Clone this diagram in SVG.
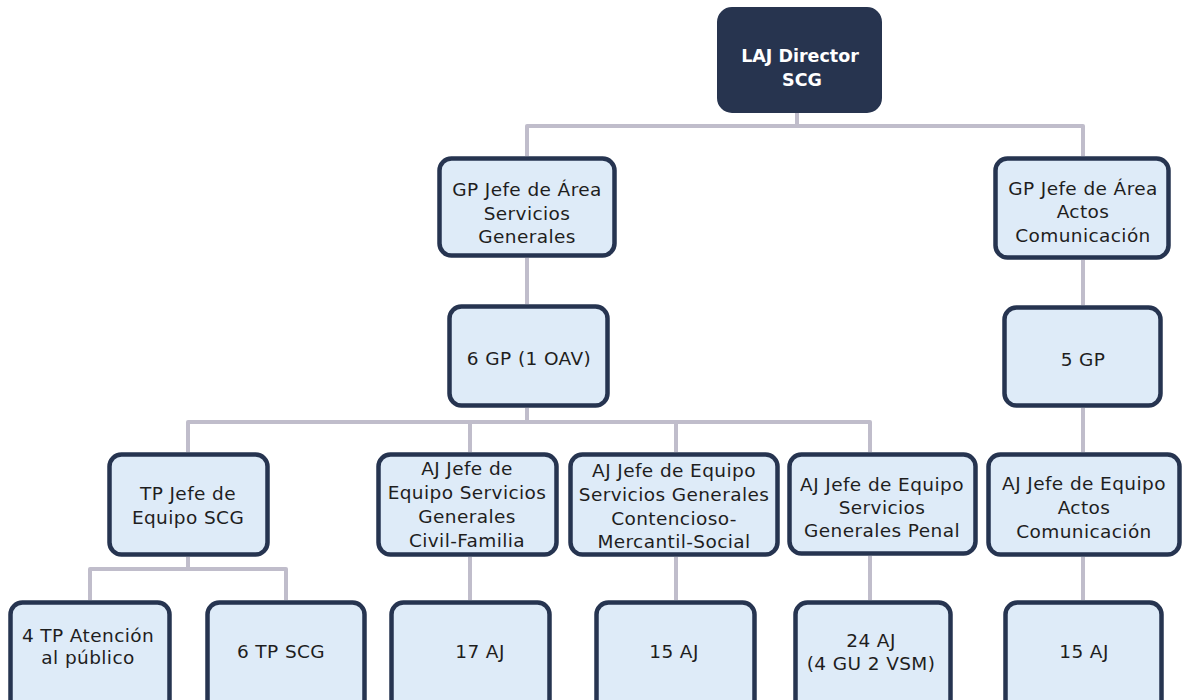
<svg xmlns="http://www.w3.org/2000/svg" width="1183" height="700" viewBox="0 0 1183 700">
<style>
.box{fill:#deebf8;stroke:#263450;stroke-width:4.5}
.top{fill:#27344f;stroke:#27344f;stroke-width:2}
.t{font-family:"DejaVu Sans","Liberation Sans",sans-serif;font-size:18.5px;fill:#1e1e1e;text-anchor:middle;letter-spacing:0.4px}
.tw{font-family:"DejaVu Sans","Liberation Sans",sans-serif;font-size:17.5px;font-weight:bold;fill:#ffffff;text-anchor:middle}
.c{fill:none;stroke:#c0bdcb;stroke-width:4;stroke-linejoin:round}
</style>
<rect width="1183" height="700" fill="#ffffff"/>
<g id="connectors">
<path class="c" d="M797 113V126M527 156V126H1083V156"/>
<path class="c" d="M527 258V304"/>
<path class="c" d="M1083 260V305"/>
<path class="c" d="M527 408V422M188 452V422H870V452M470 422V452M676 422V452"/>
<path class="c" d="M1083 408V452"/>
<path class="c" d="M188 557V569M90 600V569H286V600"/>
<path class="c" d="M470 557V600"/>
<path class="c" d="M676 557V600"/>
<path class="c" d="M870 556V600"/>
<path class="c" d="M1083 557V600"/>
</g>
<g id="n-director">
<rect class="top" x="718" y="8" width="163" height="104" rx="14"/>
<text class="tw" x="800" y="62">LAJ Director</text>
<text class="tw" x="802" y="86">SCG</text>
</g>
<g id="n-gp-sg">
<rect class="box" x="439.5" y="158.5" width="175" height="97" rx="12"/>
<text class="t" x="527" y="196">GP Jefe de Área</text>
<text class="t" x="527" y="220">Servicios</text>
<text class="t" x="527" y="243">Generales</text>
</g>
<g id="n-gp-ac">
<rect class="box" x="995.5" y="158.5" width="173" height="99" rx="12"/>
<text class="t" x="1083" y="195">GP Jefe de Área</text>
<text class="t" x="1083" y="218">Actos</text>
<text class="t" x="1083" y="242">Comunicación</text>
</g>
<g id="n-6gp">
<rect class="box" x="449.5" y="306.5" width="158" height="99" rx="12"/>
<text class="t" x="529" y="365">6 GP (1 OAV)</text>
</g>
<g id="n-5gp">
<rect class="box" x="1004.5" y="307.5" width="156" height="98" rx="12"/>
<text class="t" x="1083" y="366">5 GP</text>
</g>
<g id="n-tp-jefe">
<rect class="box" x="109.5" y="454.5" width="158" height="100" rx="12"/>
<text class="t" x="188" y="500">TP Jefe de</text>
<text class="t" x="188" y="524">Equipo SCG</text>
</g>
<g id="n-aj-civil">
<rect class="box" x="378.5" y="454.5" width="178" height="100" rx="12"/>
<text class="t" x="467" y="475">AJ Jefe de</text>
<text class="t" x="467" y="499">Equipo Servicios</text>
<text class="t" x="467" y="523">Generales</text>
<text class="t" x="467" y="547">Civil-Familia</text>
</g>
<g id="n-aj-cont">
<rect class="box" x="570.5" y="454.5" width="207" height="100" rx="12"/>
<text class="t" x="674" y="477">AJ Jefe de Equipo</text>
<text class="t" x="674" y="501">Servicios Generales</text>
<text class="t" x="674" y="525">Contencioso-</text>
<text class="t" x="674" y="548">Mercantil-Social</text>
</g>
<g id="n-aj-penal">
<rect class="box" x="789.5" y="454.5" width="186" height="99" rx="12"/>
<text class="t" x="882" y="491">AJ Jefe de Equipo</text>
<text class="t" x="882" y="514">Servicios</text>
<text class="t" x="882" y="537">Generales Penal</text>
</g>
<g id="n-aj-actos">
<rect class="box" x="988.5" y="454.5" width="191" height="100" rx="12"/>
<text class="t" x="1084" y="490">AJ Jefe de Equipo</text>
<text class="t" x="1084" y="514">Actos</text>
<text class="t" x="1084" y="538">Comunicación</text>
</g>
<g id="n-4tp">
<rect class="box" x="10.5" y="602.5" width="159" height="120" rx="12"/>
<text class="t" x="88" y="642">4 TP Atención</text>
<text class="t" x="88" y="664">al público</text>
</g>
<g id="n-6tp">
<rect class="box" x="207.5" y="602.5" width="157" height="120" rx="12"/>
<text class="t" x="281" y="658">6 TP SCG</text>
</g>
<g id="n-17aj">
<rect class="box" x="391.5" y="602.5" width="158" height="120" rx="12"/>
<text class="t" x="480" y="658">17 AJ</text>
</g>
<g id="n-15aj-a">
<rect class="box" x="596.5" y="602.5" width="158" height="120" rx="12"/>
<text class="t" x="674" y="658">15 AJ</text>
</g>
<g id="n-24aj">
<rect class="box" x="795.5" y="602.5" width="155" height="120" rx="12"/>
<text class="t" x="871" y="647">24 AJ</text>
<text class="t" x="871" y="670">(4 GU 2 VSM)</text>
</g>
<g id="n-15aj-b">
<rect class="box" x="1005.5" y="602.5" width="156" height="120" rx="12"/>
<text class="t" x="1084" y="658">15 AJ</text>
</g>
</svg>
